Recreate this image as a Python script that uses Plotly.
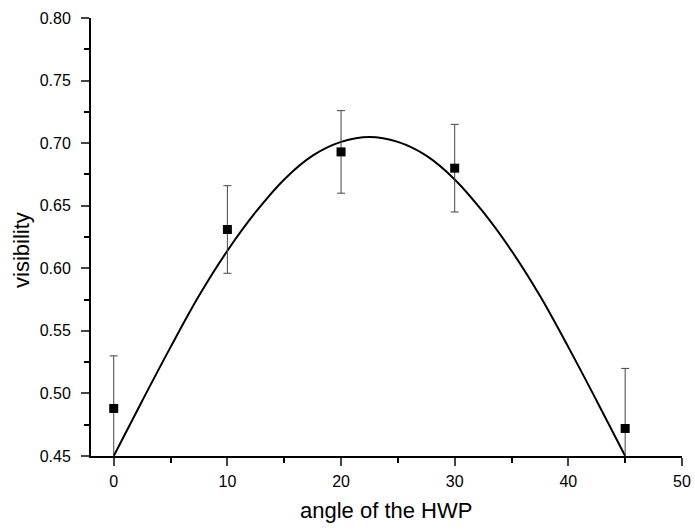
import plotly.graph_objects as go

# measured data
angle = [0, 10, 20, 30, 45]
visibility = [0.488, 0.631, 0.693, 0.680, 0.472]
vis_err = [0.042, 0.035, 0.033, 0.035, 0.048]

# fitted curve
fit_angle = [0, 2.5, 5, 7.5, 10, 12.5, 15, 17.5, 20, 22.5, 25, 27.5, 30, 32.5, 35, 37.5, 40, 42.5, 45]
fit_vis = [0.450, 0.494, 0.537, 0.578, 0.614, 0.645, 0.671, 0.690, 0.701, 0.705,
           0.701, 0.690, 0.671, 0.645, 0.614, 0.578, 0.537, 0.494, 0.450]

x_ticks = [0, 10, 20, 30, 40, 50]
y_ticks = [0.45, 0.50, 0.55, 0.60, 0.65, 0.70, 0.75, 0.80]

FONT = "Liberation Sans, Arial, sans-serif"

# plot area should span x 91..682, y 18..456 on the page
W, H = 695, 532
ML, MR, MT, MB = 91, 13, 18, 76
pw, ph = W - ML - MR, H - MT - MB

fig = go.Figure()
fig.add_trace(go.Scatter(
    x=fit_angle, y=fit_vis, mode="lines", line=dict(color="black", width=2, shape="spline"),
    showlegend=False, hoverinfo="skip"))
fig.add_trace(go.Scatter(
    x=angle, y=visibility, mode="markers",
    marker=dict(symbol="square", size=9, color="black"),
    error_y=dict(type="data", array=vis_err, color="#444", thickness=1, width=4),
    showlegend=False))

fig.update_layout(
    width=W, height=H,
    margin=dict(l=ML, r=MR, t=MT, b=MB, autoexpand=False),
    plot_bgcolor="white", paper_bgcolor="white",
    font=dict(family=FONT, color="black"),
    xaxis=dict(range=[-2, 50], tickvals=x_ticks, ticks="outside", ticklen=8, tickwidth=2,
               showline=True, linewidth=2, linecolor="black", showgrid=False, zeroline=False,
               tickfont=dict(size=16), ticklabelstandoff=2, ticklabeloverflow="allow", automargin=False,
               minor=dict(ticks="outside", ticklen=5, tickwidth=2, dtick=5, tick0=0, tickcolor="black")),
    yaxis=dict(range=[0.45, 0.80], tickvals=y_ticks, tickformat=".2f", ticks="outside", ticklen=8, tickwidth=2,
               showline=True, linewidth=2, linecolor="black", showgrid=False, zeroline=False,
               tickfont=dict(size=16), ticklabelstandoff=7, ticklabeloverflow="allow", automargin=False,
               minor=dict(ticks="outside", ticklen=5, tickwidth=2, dtick=0.025, tick0=0.45, tickcolor="black")),
)


def px_to_paper(x, y):
    return (x - ML) / pw, (MT + ph - y) / ph


ax, ay = px_to_paper(386, 510)
fig.add_annotation(text="angle of the HWP", x=ax, y=ay, xref="paper", yref="paper", showarrow=False,
                   font=dict(size=22), xanchor="center", yanchor="middle")
vx, vy = px_to_paper(21, 250)
fig.add_annotation(text="visibility", x=vx, y=vy, xref="paper", yref="paper",
                   showarrow=False, textangle=-90, font=dict(size=22), xanchor="center", yanchor="middle")

fig.write_html("out.html", config={"displayModeBar": False},
               post_script="document.body.style.margin='0';")
